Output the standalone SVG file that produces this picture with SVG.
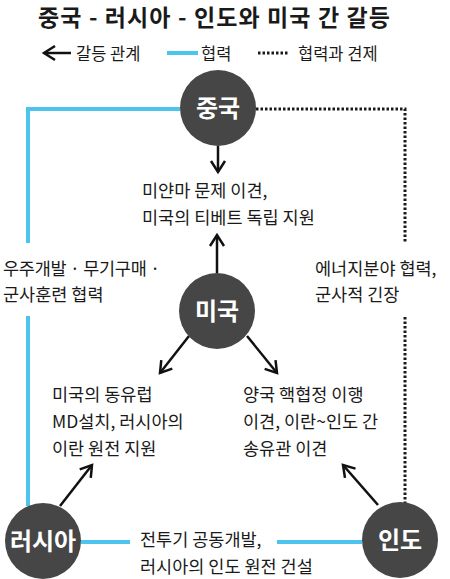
<svg xmlns="http://www.w3.org/2000/svg" width="450" height="579" viewBox="0 0 450 579">
<style>
text{font-family:"Noto Sans CJK KR","Noto Sans",sans-serif;fill:#1a1a1a}
.t{font-size:17.5px}
.lg{font-size:16.5px}
.title{font-size:23px;font-weight:bold}
.nd{fill:#464646}
.nl{font-size:24px;font-weight:bold;fill:#fff;text-anchor:middle}
.coop{stroke:#4dc4ee;stroke-width:4;fill:none}
.dot{stroke:#1a1a1a;stroke-width:3;stroke-dasharray:2.5 2;fill:none}
.arr{stroke:#111;stroke-width:2.5;fill:none;marker-end:url(#ah)}
</style>
<defs>
<marker id="ah" markerWidth="14" markerHeight="16" refX="12" refY="8" orient="auto" markerUnits="userSpaceOnUse" overflow="visible">
<path d="M1,1 L12,8 L1,15" fill="none" stroke="#111" stroke-width="2.5"/>
</marker>
</defs>
<rect width="450" height="579" fill="#fff"/>
<text class="title" x="38" y="26" textLength="352" lengthAdjust="spacing">중국 - 러시아 - 인도와 미국 간 갈등</text>
<g id="legend">
<line class="arr" x1="71" y1="53" x2="44" y2="53"/>
<text class="lg" x="76" y="60">갈등 관계</text>
<line class="coop" x1="167" y1="53" x2="198" y2="53"/>
<text class="lg" x="201" y="60">협력</text>
<line class="dot" x1="258" y1="53" x2="288" y2="53"/>
<text class="lg" x="298" y="60">협력과 견제</text>
</g>
<g id="connectors">
<path class="coop" d="M180,109 H28 V243"/>
<path class="coop" d="M28,316 V506"/>
<path class="coop" d="M81,542 H130"/>
<path class="coop" d="M277,542 H362"/>
<path class="dot" d="M256,109 H405 V243"/>
<path class="dot" d="M405,317 V503"/>
<line class="arr" x1="218" y1="146" x2="218" y2="172"/>
<line class="arr" x1="217" y1="273" x2="217" y2="235"/>
<line class="arr" x1="189" y1="336" x2="160" y2="373"/>
<line class="arr" x1="247" y1="336" x2="277" y2="373"/>
<line class="arr" x1="60" y1="506" x2="92" y2="465"/>
<line class="arr" x1="378" y1="505" x2="343" y2="465"/>
</g>
<g id="china">
<circle class="nd" cx="218" cy="108" r="38"/>
<text class="nl" x="218" y="117">중국</text>
</g>
<g id="usa">
<circle class="nd" cx="217" cy="311" r="38"/>
<text class="nl" x="217" y="320">미국</text>
</g>
<g id="russia">
<circle class="nd" cx="43" cy="541" r="38"/>
<text class="nl" x="43" y="550">러시아</text>
</g>
<g id="india">
<circle class="nd" cx="400" cy="540" r="38"/>
<text class="nl" x="400" y="549">인도</text>
</g>
<g id="labels">
<text class="t" x="142" y="197">미얀마 문제 이견,</text>
<text class="t" x="142" y="224">미국의 티베트 독립 지원</text>
<text class="t" x="3" y="275" textLength="157" lengthAdjust="spacing">우주개발 · 무기구매 ·</text>
<text class="t" x="3" y="301">군사훈련 협력</text>
<text class="t" x="315" y="275">에너지분야 협력,</text>
<text class="t" x="315" y="301">군사적 긴장</text>
<text class="t" x="52" y="401">미국의 동유럽</text>
<text class="t" x="52" y="428">MD설치, 러시아의</text>
<text class="t" x="52" y="455">이란 원전 지원</text>
<text class="t" x="243" y="401">양국 핵협정 이행</text>
<text class="t" x="243" y="428">이견, 이란~인도 간</text>
<text class="t" x="243" y="455">송유관 이견</text>
<text class="t" x="140" y="546">전투기 공동개발,</text>
<text class="t" x="140" y="573">러시아의 인도 원전 건설</text>
</g>
</svg>
